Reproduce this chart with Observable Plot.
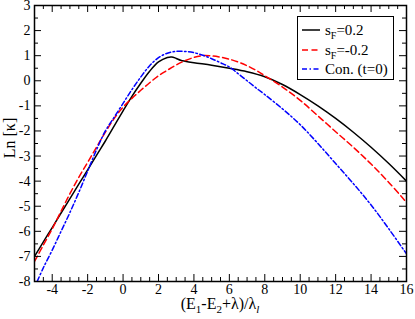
<!DOCTYPE html>
<html><head><meta charset="utf-8">
<script src="https://cdn.jsdelivr.net/npm/d3@7"></script>
<script src="https://cdn.jsdelivr.net/npm/@observablehq/plot@0.6"></script>
<style>body{margin:0;background:#fff}</style>
</head><body><div id="chart"></div>
<script>
// ---- data ----
const xBlack = [-5,-4.5,-4,-3.5,-3,-2.5,-2,-1.5,-1,-0.5,0,0.5,1,1.5,2,2.5,2.75,3,3.25,3.5,4,5,6,7,8,9,10,11,12,13,14,15,16];
const yBlack = [-7.0,-6.42,-5.85,-5.27,-4.7,-4.12,-3.55,-2.97,-2.4,-1.8,-1.2,-0.62,-0.1,0.38,0.75,0.93,0.95,0.89,0.82,0.78,0.72,0.62,0.5,0.36,0.16,-0.15,-0.55,-1.0,-1.5,-2.05,-2.65,-3.3,-4.0];

const xRed = [-5,-4.5,-4,-3.5,-3,-2.5,-2,-1.5,-1,-0.5,0,0.5,1,1.5,2,2.5,3,3.5,4,4.5,5,5.5,6,6.5,7,7.5,8,9,10,11,12,13,14,15,16];
const yRed = [-7.2,-6.55,-5.9,-5.2,-4.5,-3.85,-3.25,-2.65,-2.05,-1.5,-1.05,-0.7,-0.38,-0.08,0.2,0.42,0.63,0.8,0.93,1.0,0.99,0.94,0.86,0.75,0.6,0.42,0.2,-0.25,-0.78,-1.4,-2.03,-2.65,-3.32,-4.05,-4.85];

const xBlue = [-4.85,-4.5,-4,-3.5,-3,-2.5,-2,-1.5,-1,-0.5,0,0.5,1,1.5,2,2.5,3,3.5,4,4.5,5,5.5,6,6.5,7,7.5,8,9,10,11,12,13,14,15,16];
const yBlue = [-8,-7.45,-6.75,-6.0,-5.25,-4.45,-3.6,-2.75,-2.0,-1.45,-0.9,-0.35,0.15,0.6,0.92,1.1,1.17,1.17,1.12,1.02,0.88,0.72,0.55,0.28,0.0,-0.28,-0.55,-1.12,-1.75,-2.5,-3.3,-4.1,-4.95,-5.9,-6.9];

const xTicks = [-4,-2,0,2,4,6,8,10,12,14,16];
const yTicks = [-8,-7,-6,-5,-4,-3,-2,-1,0,1,2,3];
const xMinorTicks = d3.range(-5, 16.01, 0.5).filter(v => !xTicks.includes(v));
const yMinorTicks = d3.range(-8, 3.01, 0.5).filter(v => !yTicks.includes(v));
const seriesNames = ["sF=0.2", "sF=-0.2", "Con. (t=0)"];

// ---- layout ----
const W = 415, H = 319, mL = 34, mR = 9, mT = 5, mB = 38;
const fH = H - mT - mB, fW = W - mL - mR;
const major = 7, minor = 4;
const FONT = "'Liberation Serif', 'DejaVu Serif', serif";

const toRows = (xs, ys) => xs.map((x, i) => ({x, y: ys[i]}));
const black = toRows(xBlack, yBlack), red = toRows(xRed, yRed), blue = toRows(xBlue, yBlue);

const chart = Plot.plot({
  width: W, height: H,
  marginLeft: mL, marginRight: mR, marginTop: mT, marginBottom: mB,
  style: {fontFamily: FONT, fontSize: "14px", background: "#fff", color: "#000"},
  x: {domain: [-5, 16]},
  y: {domain: [-8, 3]},
  marks: [
    Plot.line(black, {x: "x", y: "y", stroke: "#000", strokeWidth: 1.5, curve: "catmull-rom", clip: true}),
    Plot.line(red, {x: "x", y: "y", stroke: "#ff0000", strokeWidth: 1.5, strokeDasharray: "6,3.5", curve: "catmull-rom", clip: true}),
    Plot.line(blue, {x: "x", y: "y", stroke: "#0000ff", strokeWidth: 1.5, strokeDasharray: "5,2.5,1.5,2.5", curve: "catmull-rom", clip: true}),
    // inward ticks on all four sides
    Plot.ruleX(xTicks, {insetTop: fH - major, stroke: "#000"}),
    Plot.ruleX(xTicks, {insetBottom: fH - major, stroke: "#000"}),
    Plot.ruleX(xMinorTicks, {insetTop: fH - minor, stroke: "#000"}),
    Plot.ruleX(xMinorTicks, {insetBottom: fH - minor, stroke: "#000"}),
    Plot.ruleY(yTicks, {insetRight: fW - major, stroke: "#000"}),
    Plot.ruleY(yTicks, {insetLeft: fW - major, stroke: "#000"}),
    Plot.ruleY(yMinorTicks, {insetRight: fW - minor, stroke: "#000"}),
    Plot.ruleY(yMinorTicks, {insetLeft: fW - minor, stroke: "#000"}),
    Plot.axisX(xTicks, {tickSize: 0, tickPadding: 3, tickFormat: d => String(d), label: null, fontSize: 14}),
    Plot.axisY(yTicks, {tickSize: 0, tickPadding: 4, tickFormat: d => String(d), label: null, fontSize: 14}),
    Plot.frame({stroke: "#000", strokeWidth: 1.5})
  ]
});
document.getElementById("chart").appendChild(chart);

// ---- axis titles and legend ----
const svg = d3.select(chart);
const xl = svg.append("text").attr("x", 220).attr("y", 309).attr("text-anchor", "middle")
  .style("font-family", FONT).style("font-size", "16px").attr("fill", "#000");
xl.append("tspan").text("(E");
xl.append("tspan").attr("dy", 4).style("font-size", "11px").text("1");
xl.append("tspan").attr("dy", -4).text("-E");
xl.append("tspan").attr("dy", 4).style("font-size", "11px").text("2");
xl.append("tspan").attr("dy", -4).text("+λ)/λ");
xl.append("tspan").attr("dy", 4).style("font-size", "11px").style("font-style", "italic").text("l");

svg.append("text").attr("transform", "translate(15,138) rotate(-90)").attr("text-anchor", "middle")
  .style("font-family", FONT).style("font-size", "16px").attr("fill", "#000").text("Ln [κ]");

const lg = svg.append("g");
lg.append("rect").attr("x", 297.5).attr("y", 16.5).attr("width", 96).attr("height", 63)
  .attr("fill", "#fff").attr("stroke", "#000").attr("stroke-width", 1);
const styles = [
  {stroke: "#000", dash: null},
  {stroke: "#ff0000", dash: "6,3.5"},
  {stroke: "#0000ff", dash: "5,2.5,1.5,2.5"}
];
const rowsY = [30, 50, 69];
styles.forEach((s, i) => {
  lg.append("line").attr("x1", 302).attr("x2", 320).attr("y1", rowsY[i]).attr("y2", rowsY[i])
    .attr("stroke", s.stroke).attr("stroke-width", 1.5).attr("stroke-dasharray", s.dash);
  const t = lg.append("text").attr("x", 325).attr("y", rowsY[i] + 5).attr("text-anchor", "start")
    .style("font-family", FONT).style("font-size", "15px").attr("fill", "#000");
  if (i < 2) {
    t.append("tspan").text("s");
    t.append("tspan").attr("dy", 4).style("font-size", "10px").text("F");
    t.append("tspan").attr("dy", -4).text(seriesNames[i].slice(2));
  } else {
    t.text(seriesNames[i]);
  }
});
</script>
</body></html>
